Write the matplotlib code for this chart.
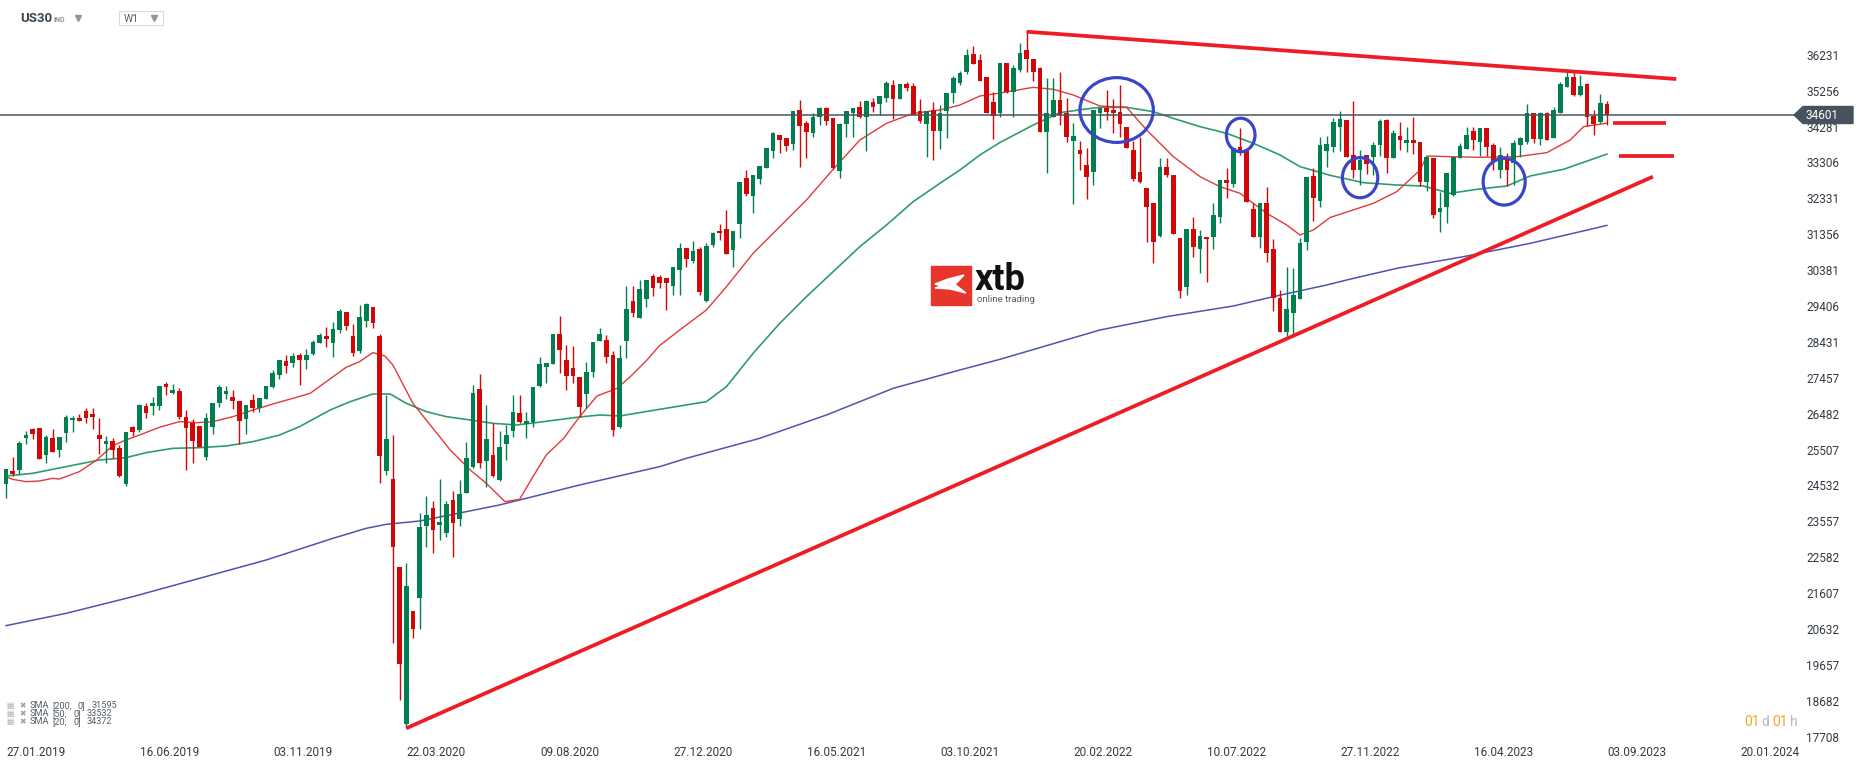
import matplotlib
matplotlib.use("Agg")
import matplotlib.pyplot as plt
from matplotlib.patches import Rectangle, Polygon, Ellipse

plt.rcParams['font.family'] = ['Roboto', 'DejaVu Sans']

# weekly candles US30, week 0 = 27.01.2019
opens = [24581, 24925, 24961, 25830, 26065, 26092, 25368, 25821, 25504, 25966,
         26310, 26364, 26554, 26464, 25902, 25667, 25730, 25550, 24581, 26111,
         26047, 26690, 26699, 26699, 27288, 27052, 27098, 26391, 26228, 26147,
         25314, 26129, 26780, 27025, 26943, 26826, 26346, 26853, 26645, 26871,
         27215, 27541, 27912, 27849, 28075, 27948, 28102, 28410, 28591, 28392,
         28754, 29243, 28592, 28193, 29008, 29379, 28592, 24934, 24708, 22327,
         18054, 21123, 21467, 23441, 23920, 23468, 23250, 24137, 23612, 24337,
         25043, 27152, 25206, 25360, 24680, 25649, 26020, 26500, 26202, 26265,
         27243, 27759, 27840, 28655, 27949, 27731, 27478, 27025, 27623, 28447,
         28492, 28075, 26120, 28447, 29542, 29089, 29605, 30230, 30203, 30175,
         29958, 30393, 30981, 30637, 30954, 29542, 31071, 31442, 31497, 30927,
         31642, 32891, 32393, 32864, 33163, 33615, 34050, 33977, 33814, 34729,
         34376, 34113, 34530, 34774, 34512, 33063, 34358, 34657, 34801, 34548,
         34937, 34901, 35064, 35417, 35037, 35435, 35381, 34711, 34349, 34729,
         34168, 34702, 35191, 35471, 35770, 36250, 36087, 35625, 34946, 34639,
         36015, 35227, 35816, 36359, 36105, 35861, 34141, 34530, 35001, 34639,
         33896, 33643, 33236, 33055, 34639, 34774, 34729, 34666, 34259, 33643,
         33055, 32602, 32195, 31316, 33190, 32964, 31244, 29932, 31488, 30963,
         31289, 31271, 31832, 32828, 32720, 33715, 33625, 32032, 31289, 32195,
         30954, 29632, 28709, 29225, 29596, 31153, 32946, 32267, 33616, 33734,
         34277, 34458, 33507, 33100, 33507, 33462, 33779, 34458, 33435, 34023,
         33842, 33915, 33869, 32783, 33435, 31968, 32104, 32421, 33417, 33670,
         34159, 33869, 34231, 33779, 33100, 33417, 33281, 33779, 33869, 34639,
         33933, 34639, 33960, 34639, 35363, 35617, 35137, 35435, 34567, 34412,
         34892]
highs = [24980, 25305, 25740, 26011, 26101, 26092, 25893, 26065, 25848, 26446,
         26428, 26464, 26636, 26636, 26364, 25875, 25812, 25631, 25993, 26156,
         26744, 26762, 26943, 27233, 27351, 27288, 27179, 26581, 26337, 26147,
         26500, 26771, 27251, 27224, 27125, 26826, 26717, 27016, 26916, 27233,
         27668, 27939, 28075, 28120, 28139, 28229, 28473, 28682, 28836, 28981,
         29316, 29243, 28918, 29433, 29497, 29379, 28646, 26980, 25903, 22327,
         22417, 21123, 23784, 24246, 24119, 24708, 24119, 24391, 24681, 25713,
         27261, 27559, 26718, 26220, 26012, 26174, 26989, 26989, 26527, 27216,
         28012, 27858, 28655, 29135, 28338, 28311, 27478, 27894, 28438, 28800,
         28619, 28193, 28347, 29949, 29949, 30112, 30112, 30266, 30250, 30175,
         30474, 31126, 30981, 31171, 30999, 31126, 31424, 31633, 32013, 31442,
         32774, 33099, 32964, 33217, 33706, 34140, 34050, 33977, 34711, 35000,
         34439, 34638, 34810, 34819, 34512, 34376, 34693, 34774, 34964, 35000,
         35064, 35118, 35517, 35535, 35444, 35480, 35453, 35019, 34711, 34937,
         34856, 35200, 35652, 35788, 36386, 36467, 36250, 35625, 35227, 35997,
         36015, 35952, 36558, 36860, 36105, 35888, 35589, 35589, 35770, 35046,
         34367, 33887, 33688, 34729, 34793, 35272, 35019, 35408, 34259, 33887,
         34005, 32602, 32195, 33417, 33417, 32964, 31244, 31488, 31832, 31470,
         31289, 32195, 32828, 33145, 33688, 34250, 33625, 32195, 32195, 32629,
         31226, 29841, 30456, 30430, 31244, 32918, 33145, 33986, 34023, 34503,
         34711, 34458, 34983, 33643, 33507, 33869, 34476, 34476, 34186, 34412,
         34277, 34548, 33869, 33444, 33435, 32511, 33009, 33462, 33824, 34259,
         34259, 34231, 34231, 33824, 33716, 33571, 33915, 33987, 34892, 34639,
         34684, 34684, 34802, 35499, 35834, 35816, 35680, 35453, 34729, 35164,
         34974]
lows = [24200, 24789, 24834, 25667, 25803, 25260, 25151, 25450, 25314, 25721,
        25993, 26274, 26238, 26075, 25396, 25151, 25287, 24771, 24526, 25884,
        25984, 26373, 26455, 26590, 26988, 27007, 26346, 24952, 25151, 25585,
        25224, 25920, 26663, 26871, 26618, 25649, 25920, 26536, 26536, 26871,
        27188, 27423, 27595, 27758, 27270, 27686, 28075, 28410, 28302, 28030,
        28682, 28754, 28048, 28139, 28827, 28818, 24608, 24816, 20263, 18706,
        17936, 20399, 20643, 22870, 22707, 23051, 23124, 22598, 23441, 24337,
        24998, 24998, 24482, 24771, 24654, 25224, 25857, 26220, 25812, 26129,
        27216, 27324, 27840, 27596, 27125, 27324, 26401, 26645, 27487, 28447,
        27849, 25885, 26102, 27985, 29117, 29089, 29388, 29687, 29900, 29297,
        29705, 29705, 30474, 30583, 29705, 29524, 31017, 31198, 30827, 30474,
        31262, 32393, 31941, 32719, 33163, 33434, 33570, 33615, 33643, 33190,
        33416, 34005, 34330, 34321, 33127, 32891, 34005, 34005, 34503, 33615,
        34675, 34593, 34937, 34485, 35037, 35245, 34602, 34367, 33462, 33371,
        33669, 33959, 34928, 35408, 35697, 35987, 35517, 34656, 33932, 34548,
        35182, 34548, 35770, 35770, 35526, 34123, 33027, 34530, 34322, 33869,
        32177, 33100, 32303, 32693, 34232, 34458, 34096, 34005, 33688, 32810,
        32738, 31135, 30565, 31289, 32919, 31352, 29614, 29705, 30746, 30312,
        30067, 30945, 31651, 32330, 32648, 33507, 32222, 31289, 30973, 30610,
        29279, 28709, 28600, 28620, 29596, 30927, 31724, 32104, 33190, 33598,
        33625, 33462, 32874, 32692, 32991, 32964, 33480, 33027, 33435, 33643,
        33598, 33534, 32674, 32530, 31787, 31408, 31652, 32403, 33417, 33670,
        33643, 33480, 33480, 33100, 32874, 32665, 32692, 33462, 33806, 33824,
        33779, 33915, 33960, 34639, 35363, 35110, 35110, 34295, 34050, 34385,
        34322]
closes = [24979, 24852, 25685, 25902, 25939, 25260, 25848, 25450, 25848, 26391,
          26373, 26292, 26373, 26400, 25803, 25740, 25504, 24798, 25975, 25993,
          26717, 26509, 26771, 27233, 27215, 27125, 26400, 26102, 25748, 25585,
          26364, 26771, 27206, 27098, 26835, 26292, 26717, 26645, 26898, 27233,
          27586, 27939, 27785, 28048, 27948, 28075, 28428, 28618, 28510, 28773,
          29270, 28863, 28121, 29108, 29470, 28954, 25342, 25794, 22852, 19675,
          21802, 20643, 23404, 23730, 23332, 23540, 24029, 23504, 24300, 25278,
          27043, 25133, 25794, 24798, 25577, 25903, 26527, 26256, 26283, 27216,
          27831, 27858, 28655, 28220, 27514, 27514, 26672, 27614, 28438, 28655,
          28030, 26039, 27994, 29325, 29225, 29868, 30112, 29904, 30022, 30022,
          30474, 30981, 30673, 30909, 29795, 31035, 31397, 31379, 30827, 31442,
          32774, 32438, 32964, 33217, 33706, 34104, 33923, 33751, 34711, 34303,
          34141, 34539, 34783, 34439, 33145, 34340, 34693, 34774, 34548, 34973,
          34810, 35118, 35462, 35037, 35444, 35335, 34602, 34439, 34711, 34168,
          34647, 35200, 35589, 35734, 36223, 35987, 35517, 34656, 34557, 35997,
          35227, 35861, 36268, 36105, 35770, 34123, 34639, 35001, 34594, 34005,
          34014, 33543, 32900, 34729, 34793, 34684, 34639, 34349, 33706, 32865,
          32783, 32086, 31153, 33190, 32964, 31352, 29823, 31488, 31017, 31307,
          31216, 31869, 32828, 32738, 33688, 33643, 32222, 31289, 32195, 30855,
          29614, 28709, 29325, 29705, 31126, 32918, 32348, 33779, 33806, 34412,
          34485, 33462, 33100, 33371, 33263, 33779, 34440, 33435, 34096, 33915,
          33915, 33842, 32783, 33444, 31878, 32059, 33009, 33462, 33752, 34050,
          33915, 34231, 33734, 33326, 33507, 33100, 33824, 33960, 34639, 33933,
          34639, 33915, 34729, 35435, 35635, 35137, 35381, 34548, 34349, 34910,
          34601]

# moving averages (week index, value)
sma20_wk = [0, 1, 3, 5, 7, 8, 11, 13.6, 16, 18, 20, 23, 26, 28.6, 31, 34, 37, 40, 43, 45.6,
            48.6, 51, 53, 55, 56.8, 58, 61, 63.6, 66.6, 69.6, 72, 74.8, 77, 79, 81, 83.6, 86,
            88.6, 91.6, 93.6, 96, 98, 101, 105, 108, 112, 116, 120, 124, 128, 132, 136, 140,
            143, 146, 149, 154, 157, 160, 164, 168, 171, 175, 179, 182, 185, 189, 192, 194,
            196, 198.5, 205, 208.5, 212, 213, 216.5, 221, 226.5, 231, 234.5, 236.5, 240]
sma20_val = [24771, 24698, 24635, 24653, 24725, 24707, 24907, 25223, 25613, 25767, 25902,
             26111, 26265, 26237, 26265, 26400, 26581, 26744, 26898, 27034, 27428, 27741,
             27894, 28139, 28048, 27804, 26763, 26174, 25495, 24952, 24590, 24092, 24156,
             24771, 25360, 25812, 26401, 26962, 27170, 27487, 27922, 28334, 28754, 29297,
             29931, 30836, 31560, 32285, 33117, 33914, 34367, 34638, 34729, 34864, 35109,
             35190, 35345, 35291, 35137, 34838, 34802, 34186, 33462, 32919, 32647, 32466,
             31923, 31606, 31334, 31470, 31810, 32195, 32511, 33100, 33480, 33462, 33444,
             33462, 33571, 33915, 34277, 34372]
sma50_wk = [0, 4, 9, 14, 18, 21, 25, 29, 33, 37, 41, 44, 48.6, 51.6, 55, 57.6, 60, 63, 66,
            69.6, 73, 76.6, 80.6, 85.6, 89, 92, 98, 105, 108, 112, 116, 120, 124, 128, 132,
            136, 140, 143, 146, 149, 154, 158, 161.5, 164, 168, 172, 175, 179, 183, 187, 191,
            194, 198.5, 203.5, 208.5, 212.5, 216.5, 220.5, 225, 228.5, 233.5, 240]
sma50_val = [24789, 24861, 25043, 25223, 25287, 25423, 25540, 25558, 25604, 25721, 25902,
             26129, 26582, 26808, 27016, 27016, 26763, 26537, 26401, 26310, 26220, 26174,
             26265, 26383, 26446, 26419, 26600, 26808, 27215, 28120, 28935, 29659, 30338,
             31017, 31606, 32240, 32737, 33099, 33507, 33845, 34322, 34657, 34747, 34802,
             34802, 34684, 34503, 34277, 34096, 33824, 33507, 33190, 32955, 32756, 32692,
             32665, 32466, 32575, 32665, 32937, 33118, 33532]
sma200_wk = [0, 9, 19, 29, 39, 49, 54, 57, 62, 74, 86, 98, 102, 113, 123, 133, 143, 149,
             164, 174, 184, 190, 198, 201.5, 208.5, 218.5, 228.5, 240]
sma200_val = [20724, 21058, 21511, 22009, 22507, 23095, 23367, 23476, 23566, 24002, 24545,
              25043, 25269, 25812, 26446, 27170, 27668, 27957, 28754, 29117, 29406, 29660,
              29977, 30135, 30429, 30746, 31108, 31595]

price_ticks = [36231, 35256, 34281, 33306, 32331, 31356, 30381, 29406, 28431, 27457,
               26482, 25507, 24532, 23557, 22582, 21607, 20632, 19657, 18682, 17708]
date_labels = ["27.01.2019", "16.06.2019", "03.11.2019", "22.03.2020", "09.08.2020",
               "27.12.2020", "16.05.2021", "03.10.2021", "20.02.2022", "10.07.2022",
               "27.11.2022", "16.04.2023", "03.09.2023", "20.01.2024"]
last_price = 34601

# indicator legend rows: period, last value
sma_periods = ['200', '50', '20']
sma_last = ['31595', '33532', '34372']

# drawn lines (week index, price)
resist_wk, resist_px = [153, 250.4], [36856, 35571]
support_wk, support_px = [60, 246.9], [17937, 32918]
level1_wk, level1_px = [240.9, 248.9], 34384
level2_wk, level2_px = [241.8, 250.0], 33480
# circles: centre week, centre price, width (weeks), height (price)
circles = [(166.5, 34729, 11.0, 1760), (185.1, 34051, 4.3, 910),
           (203.0, 32891, 5.3, 1090), (224.6, 32782, 6.3, 1270)]

W, H = 1866, 767
fig = plt.figure(figsize=(W / 100, H / 100), dpi=100)
fig.patch.set_facecolor('white')

ax = fig.add_axes([0, 1 - 742 / H, 1795 / W, 742 / H])
ax.set_xlim(-0.9, 268.2)
ax.set_ylim(17564, 37717)
for s in ax.spines.values():
    s.set_visible(False)

GREEN = '#00804f'
RED = '#d10808'
n = len(closes)
xs = list(range(n))
cols = [GREEN if c >= o else RED for o, c in zip(opens, closes)]
bottoms = [min(o, c) for o, c in zip(opens, closes)]
heights = [max(abs(c - o), 25) for o, c in zip(opens, closes)]

ax.plot(sma200_wk, sma200_val, color='#4e54b0', lw=1.1, zorder=2)
ax.plot(sma50_wk, sma50_val, color='#2f9c70', lw=1.2, zorder=2)
ax.plot(sma20_wk, sma20_val, color='#e23a3a', lw=1.0, zorder=2)

ax.vlines(xs, lows, highs, colors=cols, lw=1.0, zorder=3)
ax.bar(xs, heights, bottom=bottoms, width=0.7, color=cols, zorder=4)

ax.axhline(last_price, color='#4a5560', lw=1.1, zorder=5)

ax.plot(resist_wk, resist_px, color='#ee1c24', lw=2.7, zorder=6, solid_capstyle='butt')
ax.plot(support_wk, support_px, color='#ee1c24', lw=2.7, zorder=6, solid_capstyle='butt')
ax.plot(level1_wk, [level1_px] * 2, color='#ee1c24', lw=2.7, zorder=6, solid_capstyle='butt')
ax.plot(level2_wk, [level2_px] * 2, color='#ee1c24', lw=2.7, zorder=6, solid_capstyle='butt')

for cx, cy, cw, ch in circles:
    ax.add_patch(Ellipse((cx, cy), cw, ch, fill=False, edgecolor='#3b45c8', lw=2.3, zorder=7))

ax.set_yticks(price_ticks)
ax.set_yticklabels([str(p) for p in price_ticks])
ax.yaxis.tick_right()
ax.tick_params(axis='y', length=0, pad=8, labelsize=8.5, labelcolor='#333b44')
ax.set_xticks([4.5 + 20 * k for k in range(len(date_labels))])
ax.set_xticklabels(date_labels)
ax.tick_params(axis='x', length=0, pad=3, labelsize=8.5, labelcolor='#333b44')
for lab in ax.get_yticklabels():
    lab.set_horizontalalignment('left')

# overlay in pixel coordinates for the chart furniture
ov = fig.add_axes([0, 0, 1, 1], facecolor='none')
ov.set_xlim(0, W)
ov.set_ylim(H, 0)
ov.axis('off')

# price tag
ov.add_patch(Polygon([(1794, 115), (1803, 106.5), (1853, 106.5), (1853, 123.5), (1803, 123.5)],
                     closed=True, color='#46535e', zorder=8))
ov.text(1806, 115.5, str(last_price), color='white', fontsize=8.5, va='center', ha='left', zorder=9)

# header
ov.text(20, 19, 'US30', fontsize=9.5, fontweight='bold', color='#3b4752', va='center')
ov.text(53, 19.5, 'IND', fontsize=5, fontweight='bold', color='#8e979f', va='center')
ov.plot([78], [17.5], marker='v', ms=4, color='#8e979f')
ov.add_patch(Rectangle((119, 11), 44, 14, fill=False, edgecolor='#d8dce0', lw=0.8))
ov.text(124, 19.5, 'W1', fontsize=7.5, color='#555d66', va='center')
ov.plot([154], [17.5], marker='v', ms=4, color='#8e979f')

# indicator legend
for k, (per, val) in enumerate(zip(sma_periods, sma_last)):
    y = 705.5 + 7.9 * k
    wide = len(per) == 3
    tc = '#555d66'
    ov.text(6, y, '\u25a4', fontsize=5.5, color='#9aa2aa', va='center', family=['DejaVu Sans'])
    ov.text(19, y, '\u2716', fontsize=5.5, color='#9aa2aa', va='center', family=['DejaVu Sans'])
    ov.text(30, y, 'SMA', fontsize=6.6, color=tc, va='center')
    ov.text(52, y, '[' + per + ',', fontsize=6.6, color=tc, va='center')
    ov.text(78 if wide else 74, y, '0]', fontsize=6.6, color=tc, va='center')
    ov.text(92 if wide else 87, y, val, fontsize=6.6, color=tc, va='center')

# candle countdown
ov.text(1744, 722, '01', fontsize=10, color='#f5a623', va='center')
ov.text(1761, 722, 'd', fontsize=10, color='#b8b8b8', va='center')
ov.text(1772.5, 722, '01', fontsize=10, color='#f5a623', va='center')
ov.text(1790, 722, 'h', fontsize=10, color='#b8b8b8', va='center')

# xtb logo
ov.add_patch(Rectangle((931, 266), 40, 39, color='#e8352b', zorder=8))
ov.add_patch(Polygon([(935, 284), (948, 279), (964, 275), (955, 284.5), (966, 293),
                      (950, 289), (935, 288), (941, 286)], closed=True, color='white', zorder=9))
ov.text(975, 280, 'xtb', fontsize=26, fontweight='bold', color='#111111', va='center', zorder=9)
ov.text(977, 300, 'online trading', fontsize=6.8, color='#5b5b5b', va='center', zorder=9)

fig.savefig('out.png', dpi=100, facecolor='white')
